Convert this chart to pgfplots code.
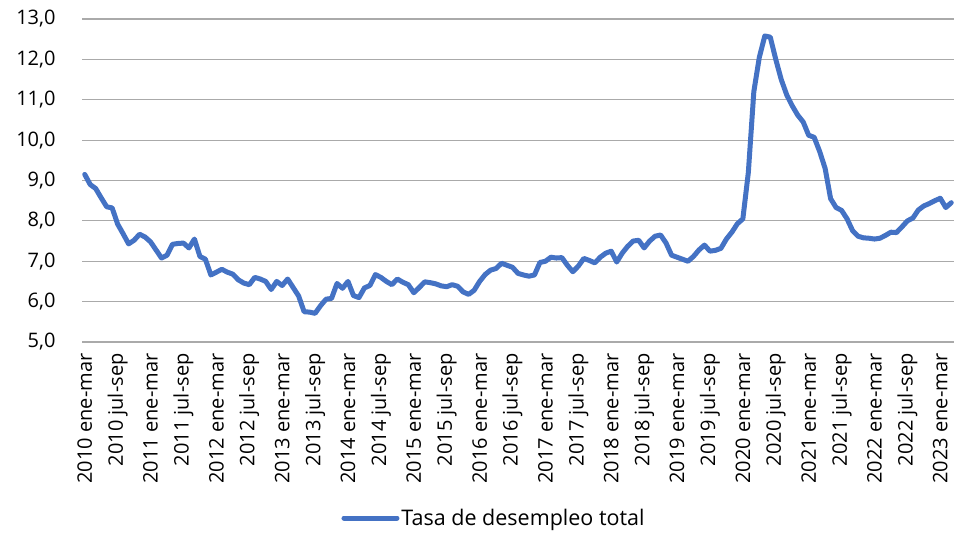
\documentclass[border=0pt]{standalone}
\usepackage{fontspec}
\setmainfont{Open Sans}
\usepackage{pgfplots}
\usepackage{pgfplotstable}
\pgfplotsset{compat=1.18}
\definecolor{serie}{RGB}{68,114,196}
\definecolor{grilla}{RGB}{170,170,170}
\newcommand\chartfont{\fontsize{20bp}{24bp}\selectfont}
\newcommand\legendfont{\fontsize{21.5bp}{25bp}\selectfont}
\pgfplotstableread{
v
9.15
8.9
8.8
8.57
8.35
8.32
7.92
7.68
7.43
7.52
7.67
7.6
7.48
7.28
7.08
7.15
7.42
7.44
7.45
7.33
7.55
7.12
7.05
6.66
6.73
6.8
6.73
6.68
6.54
6.46
6.42
6.6
6.56
6.5
6.3
6.5
6.4
6.56
6.35
6.14
5.75
5.74
5.71
5.9
6.06
6.08
6.45
6.33
6.5
6.15
6.1
6.34
6.4
6.67
6.6
6.5
6.42
6.56
6.48
6.42
6.22
6.35
6.49
6.47
6.44
6.39
6.37
6.42
6.38
6.24
6.18
6.28
6.5
6.67
6.78
6.82
6.95
6.9
6.85
6.7
6.66
6.63
6.66
6.97
7.0
7.1
7.08
7.09
6.9
6.74
6.88
7.07
7.02
6.96
7.1
7.2
7.25
6.98
7.2
7.37
7.5
7.52
7.33
7.5
7.62
7.65
7.45
7.15
7.1
7.05
7.0
7.12
7.28
7.4
7.25
7.27
7.32
7.55
7.72
7.93
8.05
9.2
11.2
12.05
12.58
12.55
12.0
11.5
11.12
10.85
10.62
10.45
10.12
10.07
9.72
9.3
8.55
8.33
8.26
8.05
7.76
7.62
7.58
7.57
7.55
7.57
7.64
7.72
7.71
7.85
8.0
8.07
8.27
8.37
8.43
8.5
8.56
8.33
8.45
}\datatable
\begin{document}
\begin{tikzpicture}
\useasboundingbox (0,0) rectangle (954bp,533bp);
\begin{axis}[
  at={(82bp,191bp)}, anchor=south west,
  scale only axis,
  width=872bp, height=323bp,
  xmin=-0.5, xmax=158.5,
  ymin=5, ymax=13,
  ytick={5,6,...,13},
  xtick={0,6,...,156},
  xticklabels={2010 ene-mar,2010 jul-sep,2011 ene-mar,2011 jul-sep,2012 ene-mar,2012 jul-sep,2013 ene-mar,2013 jul-sep,2014 ene-mar,2014 jul-sep,2015 ene-mar,2015 jul-sep,2016 ene-mar,2016 jul-sep,2017 ene-mar,2017 jul-sep,2018 ene-mar,2018 jul-sep,2019 ene-mar,2019 jul-sep,2020 ene-mar,2020 jul-sep,2021 ene-mar,2021 jul-sep,2022 ene-mar,2022 jul-sep,2023 ene-mar},
  axis line style={draw=none},
  major tick length=0pt,
  ymajorgrids,
  grid style={grilla, line width=1.1bp},
  tick label style={font=\chartfont, text=black},
  yticklabel style={anchor=east, xshift=-23bp},
  xticklabel style={rotate=90, anchor=east, yshift=0bp, xshift=-8bp},
  /pgf/number format/.cd, fixed, fixed zerofill, precision=1, use comma, assume math mode=true,
  /pgfplots/.cd,
  clip=false,
  legend style={draw=none, fill=none, at={(0.4725,-0.545)}, anchor=center, font=\legendfont},
  legend image code/.code={\draw[#1] (0bp,0bp) -- (53bp,0bp);},
]
\addplot[serie, line width=5bp, line join=round, line cap=round, mark=none]
  table[x expr=\coordindex, y=v] {\datatable};
\addlegendentry{Tasa de desempleo total}
\end{axis}
\end{tikzpicture}
\end{document}
